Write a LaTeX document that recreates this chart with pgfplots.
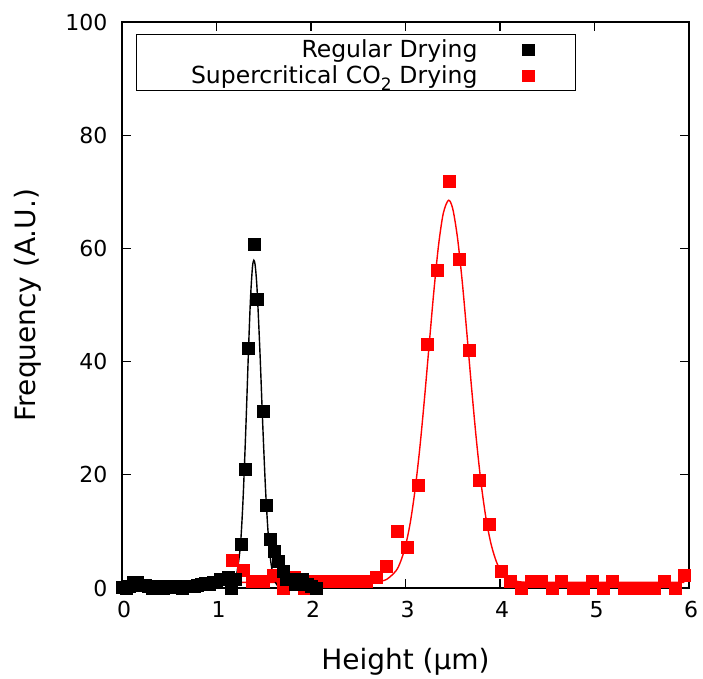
\documentclass[border=0pt]{standalone}
\usepackage{fontspec}
\setmainfont{DejaVu Sans}
\usepackage{pgfplots}
\pgfplotsset{compat=1.18}
\begin{document}
\begin{tikzpicture}
\begin{axis}[name=ax,
  width=567pt, height=566pt, scale only axis,
  xmin=0, xmax=6, ymin=0, ymax=100,
  xtick={0,1,2,3,4,5,6}, ytick={0,20,40,60,80,100},
  tick align=inside, major tick length=9pt,
  tick style={line width=1.2pt, black},
  axis line style={line width=1.6pt},
  xticklabel style={font=\fontsize{22}{22}\selectfont, yshift=-10pt, xshift=2pt},
  yticklabel style={font=\fontsize{22}{22}\selectfont, xshift=-11pt},
  /pgf/number format/assume math mode=true,
  xlabel={Height (µm)}, ylabel={Frequency (A.U.)},
  label style={font=\fontsize{28}{28}\selectfont},
  xlabel style={at={(axis description cs:0.5,-0.13)}, anchor=center},
  ylabel style={at={(axis description cs:-0.166,0.5)}, anchor=center},
  clip=false,
  legend plot pos=right, legend cell align=right,
  legend style={at={(axis description cs:0.0247,0.9788)}, anchor=north west,
    draw=black, line width=1pt, inner xsep=0pt, inner ysep=2pt,
    font=\fontsize{23.5}{23.5}\selectfont, /tikz/column sep=0pt, /tikz/row sep=0pt,
    nodes={inner sep=0pt, text width=341pt, align=right, text height=21pt, text depth=5pt}},
  legend image code/.code={\path (0pt,0pt) (97pt,0pt); \draw[#1] plot coordinates {(50pt,0pt)};},
]
\addlegendimage{only marks, mark=square*, mark size=5.8pt, black, mark options={line width=0.3pt}}
\addlegendentry{Regular Drying}
\addlegendimage{only marks, mark=square*, mark size=5.8pt, red, mark options={line width=0.3pt}}
\addlegendentry{Supercritical CO\raisebox{-0.3em}{\fontsize{17}{17}\selectfont 2} Drying}

% Supercritical CO2 drying points
\addplot[only marks, mark=square*, mark size=6pt, red, mark options={line width=0.3pt}, forget plot] coordinates {
(1.17,5.0) (1.28,3.1) (1.38,1.2) (1.49,1.2) (1.60,2.2) (1.71,0) (1.82,2.0) (1.93,0)
(2.04,1.2) (2.15,1.2) (2.25,1.2) (2.36,1.2) (2.47,1.2) (2.58,1.2) (2.69,2.0) (2.80,3.9)
(2.91,10.0) (3.02,7.2) (3.13,18.1) (3.23,43.0) (3.34,56.2) (3.46,71.9) (3.57,58.1)
(3.67,42.0) (3.78,19.1) (3.89,11.2) (4.01,3.0) (4.11,1.2) (4.22,0) (4.33,1.2) (4.44,1.2)
(4.55,0) (4.65,1.2) (4.77,0) (4.88,0) (4.98,1.2) (5.09,0) (5.19,1.2) (5.31,0) (5.42,0)
(5.53,0) (5.63,0) (5.74,1.2) (5.85,0) (5.95,2.2)
};
% Regular drying points
\addplot[only marks, mark=square*, mark size=6pt, black, mark options={line width=0.3pt}, forget plot] coordinates {
(0.00,0.2) (0.04,0) (0.08,0.3) (0.12,1.0) (0.16,1.0) (0.20,0.5) (0.24,0.5) (0.28,0.3)
(0.32,0) (0.36,0.3) (0.40,0.4) (0.44,0) (0.48,0.3) (0.52,0.3) (0.56,0.2) (0.60,0.3)
(0.64,0) (0.68,0.4) (0.72,0.3) (0.76,0.3) (0.80,0.5) (0.84,0.6) (0.88,0.8) (0.92,0.6)
(0.96,1.0) (1.00,1.0) (1.04,1.5) (1.08,1.6) (1.12,2.0) (1.16,0) (1.20,1.5)
(1.262,7.8) (1.301,21.0) (1.339,42.4) (1.397,60.7) (1.434,51.1) (1.492,31.3) (1.527,14.7)
(1.569,8.6) (1.61,6.5) (1.65,4.7) (1.70,2.9) (1.74,1.5) (1.78,1.5) (1.83,0.6) (1.87,0.6)
(1.91,1.5) (1.96,0.6) (2.00,0.3) (2.05,0)
};
% Supercritical fit
\addplot[red, line width=1.4pt, smooth, forget plot] coordinates {
(1.15,1.0) (1.6,1.0) (2.0,1.0) (2.4,1.0) (2.60,1.02) (2.70,1.11) (2.80,1.52) (2.90,3.05)
(2.95,4.75) (3.00,7.46) (3.05,11.5) (3.10,17.2) (3.15,24.5) (3.20,33.3) (3.25,42.9)
(3.30,52.4) (3.35,60.6) (3.40,66.2) (3.455,68.5) (3.50,67.0) (3.55,61.9) (3.60,54.2)
(3.65,44.9) (3.70,35.2) (3.75,26.2) (3.80,18.5) (3.85,12.5) (3.90,8.15) (3.95,5.2)
(4.00,3.33) (4.10,1.6) (4.20,1.12) (4.30,1.01) (4.6,1.0) (5.0,1.0) (5.5,1.0) (5.95,1.0)
};
% Regular fit
\addplot[black, line width=1.4pt, smooth, forget plot] coordinates {
(1.0,0) (1.10,0.02) (1.15,0.14) (1.20,1.26) (1.25,6.98) (1.28,15.3) (1.31,28.0) (1.34,42.7)
(1.36,51.2) (1.38,56.6) (1.395,57.9) (1.41,56.9) (1.43,52.6) (1.46,41.6) (1.49,28.6)
(1.52,17.1) (1.55,8.9) (1.58,4.0) (1.62,1.1) (1.66,0.24) (1.70,0.03) (1.8,0) (2.0,0)
};
\end{axis}
\pgfresetboundingbox
\path (ax.south west) ++(-122pt,-90pt) rectangle ++(703pt,678pt);
\end{tikzpicture}
\end{document}
